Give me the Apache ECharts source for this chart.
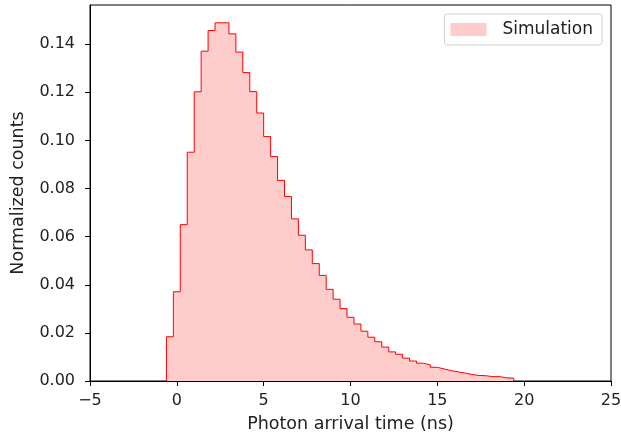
<!DOCTYPE html>
<html>
<head>
<meta charset="utf-8">
<script src="https://cdn.jsdelivr.net/npm/echarts@6/dist/echarts.min.js"></script>
<style>
  html, body { margin: 0; padding: 0; background: #fff; }
  #chart { width: 621px; height: 438px; }
</style>
</head>
<body>
<div id="chart"></div>
<script>
// histogram: 50 bins of 0.4 ns starting at -0.6 ns
const binStart = -0.6;
const binWidth = 0.4;
const counts = [
  0.0184, 0.0371, 0.0650, 0.0951, 0.1202, 0.1371, 0.1457, 0.1489, 0.1489, 0.1443,
  0.1367, 0.1282, 0.1203, 0.1114, 0.1016, 0.0933, 0.0834, 0.0767, 0.0674, 0.0606,
  0.0545, 0.0488, 0.0439, 0.0381, 0.0340, 0.0301, 0.0265, 0.0237, 0.0207, 0.0182,
  0.0163, 0.0141, 0.0121, 0.0111, 0.0095, 0.0083, 0.0074, 0.0067, 0.0057, 0.0050,
  0.0043, 0.0038, 0.0033, 0.0027, 0.0023, 0.0022, 0.0018, 0.0018, 0.0013, 0.0012
];
const xTicks = [-5, 0, 5, 10, 15, 20, 25];
const yTicks = [0, 0.02, 0.04, 0.06, 0.08, 0.10, 0.12, 0.14];

// step outline points from bin edges
const stepData = [[binStart, 0]];
counts.forEach((v, i) => {
    stepData.push([+(binStart + i * binWidth).toFixed(2), v]);
});
stepData.push([+(binStart + counts.length * binWidth).toFixed(2), 0]);

const myChart = echarts.init(document.getElementById('chart'));
const font = 'DejaVu Sans';
const option = {
    animation: false,
    textStyle: { fontFamily: font },
    grid: {
        left: 90, right: 10, top: 5, bottom: 57,
        outerBoundsMode: 'none',
        show: true, borderColor: '#000', borderWidth: 1
    },
    legend: {
        data: ['Simulation'],
        right: 19, top: 14,
        icon: 'rect',
        itemWidth: 36, itemHeight: 13, itemGap: 10,
        padding: [7, 9, 7, 6],
        borderColor: '#d0d0d0', borderWidth: 1, borderRadius: 3,
        itemStyle: { color: '#ffcccc', borderWidth: 0 },
        textStyle: { fontFamily: font, fontSize: 17, color: '#222', padding: [0, 0, 0, 11] }
    },
    xAxis: {
        type: 'value',
        min: -5, max: 25, interval: 5,
        name: 'Photon arrival time (ns)',
        nameLocation: 'middle', nameGap: 34,
        nameTextStyle: { fontFamily: font, fontSize: 17.5, color: '#222' },
        axisLine: { onZero: false, lineStyle: { color: '#000', width: 1 } },
        axisTick: { length: 5, lineStyle: { color: '#000' }, customValues: xTicks },
        axisLabel: {
            fontFamily: font, fontSize: 16, color: '#222', margin: 12,
            customValues: xTicks,
            formatter: v => (v < 0 ? '\u2212' + Math.abs(v) : String(v))
        },
        splitLine: { show: false }
    },
    yAxis: {
        type: 'value',
        min: 0, max: 0.1563,
        name: 'Normalized counts',
        nameLocation: 'middle', nameGap: 63,
        nameTextStyle: { fontFamily: font, fontSize: 17.5, color: '#222' },
        axisLine: { show: true, onZero: false, lineStyle: { color: '#000', width: 1 } },
        axisTick: { show: true, length: 5, lineStyle: { color: '#000' }, customValues: yTicks },
        axisLabel: {
            fontFamily: font, fontSize: 16, color: '#222', margin: 15,
            customValues: yTicks,
            formatter: v => v.toFixed(2)
        },
        splitLine: { show: false }
    },
    series: [
        {
            name: 'Simulation',
            type: 'line',
            step: 'end',
            symbol: 'none',
            data: stepData,
            lineStyle: { color: '#ff0000', width: 1 },
            itemStyle: { color: '#ffcccc' },
            areaStyle: { color: '#ffcccc', opacity: 1 }
        }
    ]
};
myChart.setOption(option);
</script>
</body>
</html>
